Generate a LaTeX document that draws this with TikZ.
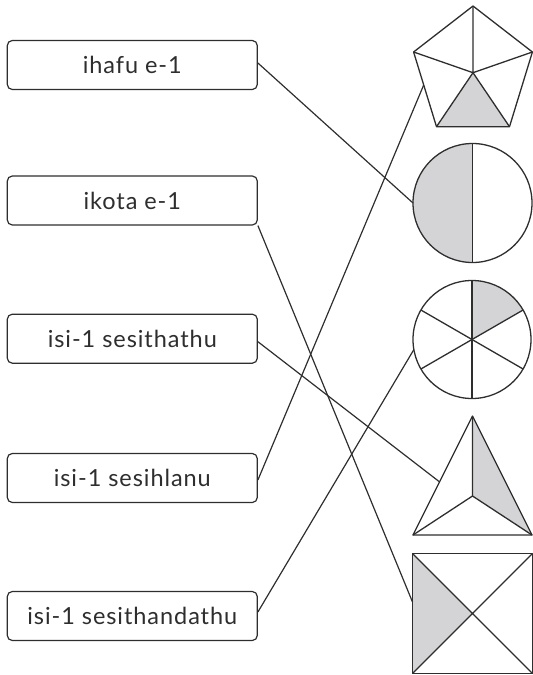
\documentclass[tikz,border=0pt]{standalone}
\usepackage{fontspec}
\setmainfont[LetterSpace=4]{Lato}
\definecolor{lc}{HTML}{2E2E2E}
\definecolor{sh}{HTML}{D4D4D6}
\begin{document}
\begin{tikzpicture}[x=1pt,y=-1pt,line join=round,
  lbl/.style={draw=lc,line width=1.2pt,rounded corners=5pt,minimum width=250pt,minimum height=49pt,inner sep=0pt,font=\fontsize{23.5}{28}\selectfont,text=lc},
  edge/.style={draw=lc,line width=1.2pt},
  shp/.style={draw=lc,line width=1.3pt},
  shade/.style={fill=sh}]
\useasboundingbox (0,0) rectangle (533,675);
% label boxes
\node[lbl] (b1) at (132.3,65) {ihafu e-1};
\node[lbl] (b2) at (132.3,200.5) {ikota e-1};
\node[lbl] (b3) at (132.3,338.7) {isi-1 sesithathu};
\node[lbl] (b4) at (132.3,478) {isi-1 sesihlanu};
\node[lbl] (b5) at (132.3,616) {isi-1 sesithandathu};
% pentagon
\coordinate (pT) at (473,6);
\coordinate (pR) at (532.4,52);
\coordinate (pBR) at (509.5,126.7);
\coordinate (pBL) at (436.5,126.7);
\coordinate (pL) at (413.6,52);
\coordinate (pC) at (473,72.7);
\fill[shade] (pC) -- (pBL) -- (pBR) -- cycle;
\draw[shp] (pT) -- (pR) -- (pBR) -- (pBL) -- (pL) -- cycle;
\draw[shp] (pC) -- (pT) (pC) -- (pR) (pC) -- (pBR) (pC) -- (pBL) (pC) -- (pL);
% half circle
\coordinate (c1) at (472.5,203);
\begin{scope}
\clip (400,130) rectangle (472.5,280);
\fill[shade] (c1) circle[radius=59.5];
\end{scope}
\draw[shp] (c1) circle[radius=59.5];
\draw[shp] (472.5,143.5) -- (472.5,262.5);
% sixths circle
\coordinate (c2) at (472,339.5);
\begin{scope}
\clip (c2) -- (472,259.5) -- (552,259.5) -- (541.3,299.5) -- cycle;
\fill[shade] (c2) circle[radius=59];
\end{scope}
\draw[shp] (c2) circle[radius=59];
\draw[shp] (472,280.5) -- (472,398.5);
\draw[shp] (420.9,369) -- (523.1,310);
\draw[shp] (420.9,310) -- (523.1,369);
% triangle
\coordinate (tA) at (472.5,416);
\coordinate (tL) at (413,535);
\coordinate (tR) at (532,535);
\coordinate (tC) at (472.5,496);
\fill[shade] (tA) -- (tC) -- (tR) -- cycle;
\draw[shp] (tA) -- (tR) -- (tL) -- cycle;
\draw[shp] (tC) -- (tA) (tC) -- (tL) (tC) -- (tR);
% square
\coordinate (sTL) at (412.5,553.5);
\coordinate (sTR) at (532.5,553.5);
\coordinate (sBR) at (532.5,673.5);
\coordinate (sBL) at (412.5,673.5);
\coordinate (sC) at (472.5,613.5);
\fill[shade] (sTL) -- (sC) -- (sBL) -- cycle;
\draw[shp] (sTL) -- (sTR) -- (sBR) -- (sBL) -- cycle;
\draw[shp] (sTL) -- (sBR) (sTR) -- (sBL);
% connector ends
\coordinate (c1w) at (413,203);
\coordinate (sqw) at (412.5,602);
\coordinate (tLe) at (439.3,481.7);
\coordinate (pLe) at (423.7,85);
\coordinate (c2w) at (413.6,350);
% connectors
\draw[edge] ([yshift=2pt]b1.east) -- (c1w);
\draw[edge] (b2.south east) -- (sqw);
\draw[edge] ([yshift=-3pt]b3.east) -- (tLe);
\draw[edge] ([yshift=-2pt]b4.east) -- (pLe);
\draw[edge] ([yshift=4pt]b5.east) -- (c2w);
\end{tikzpicture}
\end{document}
